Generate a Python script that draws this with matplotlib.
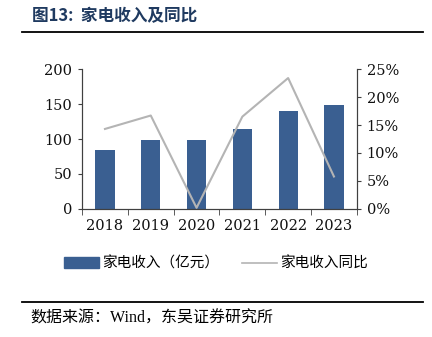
import numpy as np
import matplotlib
matplotlib.use("Agg")
import matplotlib.pyplot as plt
from matplotlib.lines import Line2D
from matplotlib.patches import Patch

plt.rcParams['font.family'] = ['Liberation Serif', 'Noto Sans CJK SC', 'DejaVu Sans']

# ============================================================
# Data
# ============================================================
years = ["2018", "2019", "2020", "2021", "2022", "2023"]
revenue = [84, 98, 98, 114, 140, 148]          # 家电收入（亿元）
yoy = [14.3, 16.7, 0.2, 16.5, 23.4, 5.8]        # 家电收入同比（%）

BAR_COLOR = "#3A5F91"
LINE_COLOR = "#B4B4B4"
AXIS_COLOR = "#404040"
CJK = ['Noto Sans CJK SC', 'DejaVu Sans']

# ============================================================
# Figure
# ============================================================
fig = plt.figure(figsize=(4.32, 3.37), dpi=100)
ax = fig.add_axes([0.19, 0.380, 0.636, 0.415])
ax2 = ax.twinx()

x = np.arange(len(years))
ax.bar(x, revenue, width=0.42, color=BAR_COLOR, zorder=2)
ax2.plot(x, yoy, color=LINE_COLOR, lw=1.5, zorder=3)

ax.set_xlim(-0.5, len(years) - 0.5)
ax.set_ylim(0, 200)
ax.set_yticks([0, 50, 100, 150, 200])
ax2.set_ylim(0, 25)
ax2.set_yticks([0, 5, 10, 15, 20, 25])
ax2.set_yticklabels([f"{v}%" for v in range(0, 30, 5)])

ax.set_xticks(x)
ax.set_xticklabels(years)
ax.set_xticks(np.arange(-0.5, len(years)), minor=True)
ax.tick_params(axis="x", which="major", length=0, pad=7)
ax.tick_params(axis="x", which="minor", length=4, color=AXIS_COLOR)
ax.tick_params(axis="y", length=3, color=AXIS_COLOR, pad=4)
ax2.tick_params(axis="y", length=3, color=AXIS_COLOR, pad=4)
for a in (ax, ax2):
    for lbl in a.get_xticklabels() + a.get_yticklabels():
        lbl.set_fontsize(10.5)
        lbl.set_family("DejaVu Serif")
        lbl.set_color("#111111")
    a.spines["top"].set_visible(False)
    for s in ("left", "right", "bottom"):
        a.spines[s].set_color(AXIS_COLOR)
        a.spines[s].set_linewidth(0.8)

# Legend
handles = [Patch(color=BAR_COLOR), Line2D([0], [0], color=LINE_COLOR, lw=1.2)]
fig.legend(handles, ["家电收入（亿元）", "家电收入同比"],
           loc="center", bbox_to_anchor=(0.5, 0.218), ncol=2, frameon=False,
           prop={"family": CJK, "size": 10.5}, handlelength=2.4,
           handletextpad=0.2, columnspacing=1.6)

# Title and source
fig.text(0.074, 0.952, "图13:  家电收入及同比", fontsize=12, fontweight="bold",
         color="#1F3A60", family=CJK, va="center")
fig.add_artist(Line2D([0.05, 0.98], [0.904, 0.904], color="black", lw=1.3))
fig.add_artist(Line2D([0.05, 0.98], [0.104, 0.104], color="black", lw=1.3))
fig.text(0.07, 0.055, "数据来源：Wind，东吴证券研究所", fontsize=11.5,
         family=['Liberation Serif', 'Noto Sans CJK SC'], va="center")

fig.savefig("out.png", dpi=100)
